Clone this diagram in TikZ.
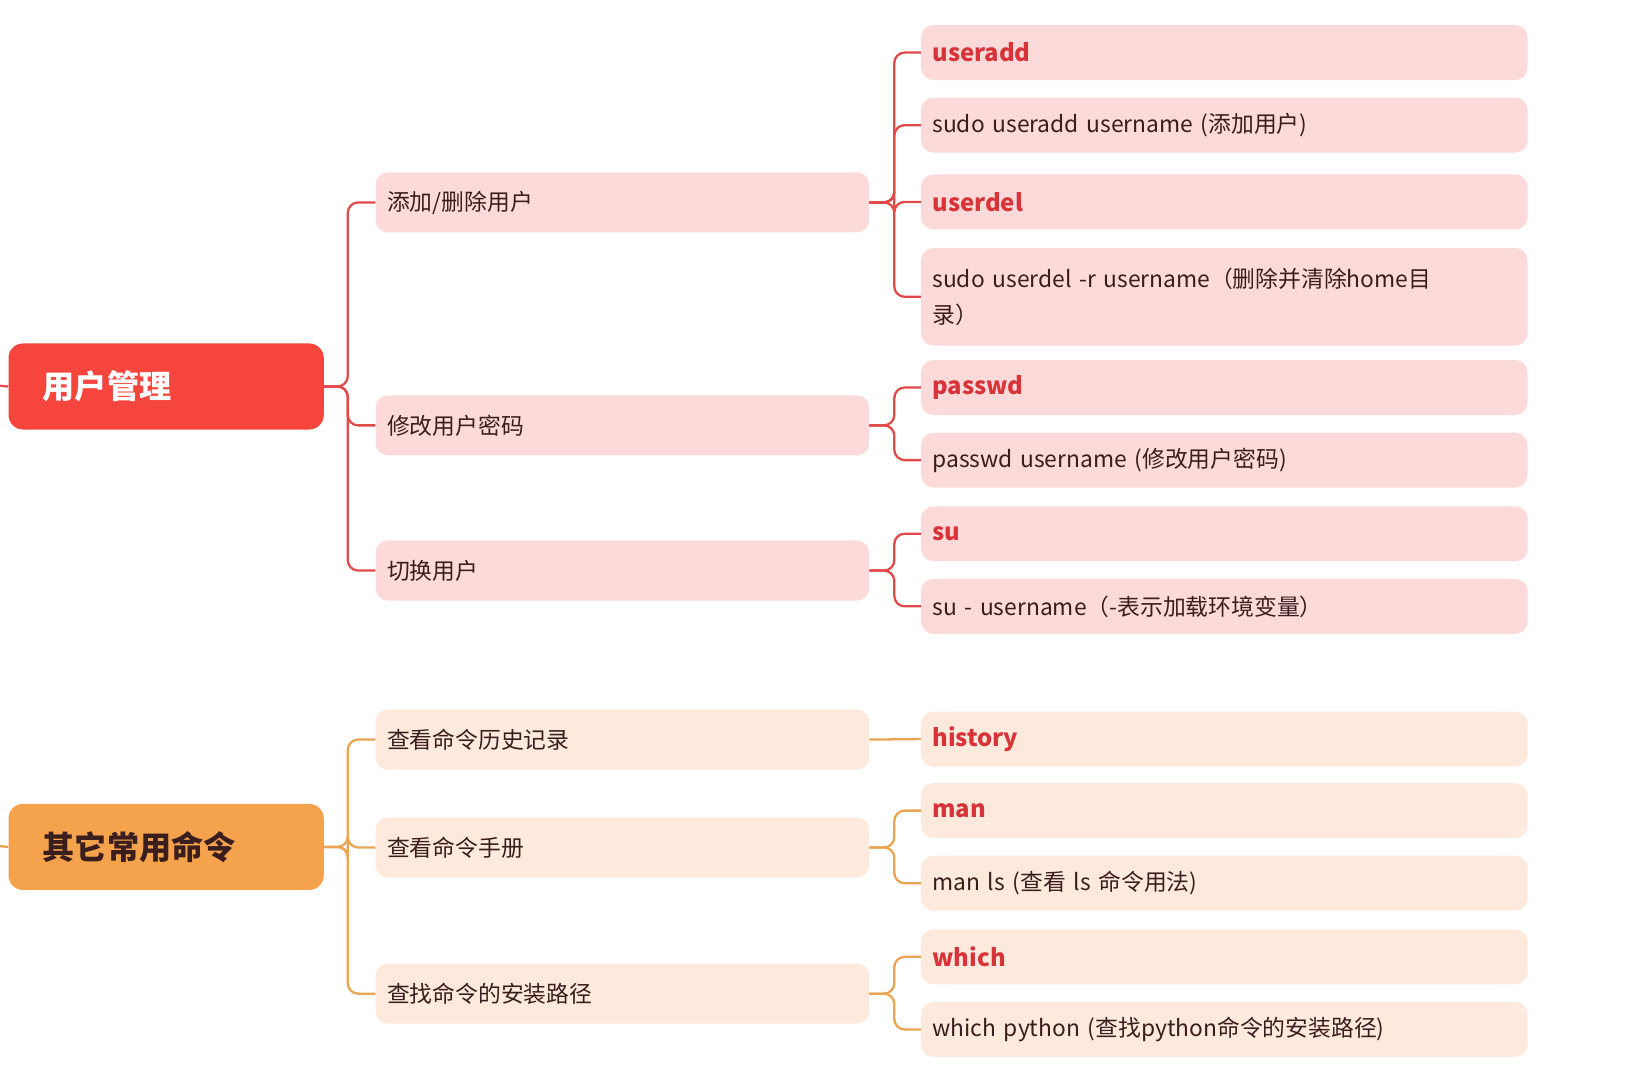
\documentclass[tikz,border=0pt]{standalone}
\usepackage{fontspec}
\setmainfont{Noto Sans CJK SC}
\usetikzlibrary{calc}
\definecolor{rootR}{HTML}{F5453C}
\definecolor{rootO}{HTML}{F5A24C}
\definecolor{boxR}{HTML}{FDDADA}
\definecolor{boxO}{HTML}{FDEADC}
\definecolor{lineR}{HTML}{E04A48}
\definecolor{lineO}{HTML}{EBA452}
\definecolor{txt}{HTML}{3A1E1E}
\definecolor{ttl}{HTML}{D9333A}
\tikzset{
  base/.style={anchor=north west, rounded corners=12pt, inner xsep=11pt, inner ysep=0pt, align=left, font=\fontsize{22}{34}\selectfont, text=txt},
  rootbox/.style={base, minimum height=83pt, text width=282pt, rounded corners=14pt, font=\fontsize{31}{36}\selectfont\bfseries, inner xsep=33pt, text width=238pt},
  midbox/.style={base, minimum height=58pt, text width=454pt},
  leafbox/.style={base, minimum height=53pt, text width=563pt},
  ttlbox/.style={leafbox, font=\fontsize{23}{30}\selectfont\bfseries, text=ttl},
  cr/.style={draw=lineR, line width=2.2pt, rounded corners=10pt},
  co/.style={draw=lineO, line width=2.2pt, rounded corners=10pt},
}
\begin{document}
\begin{tikzpicture}[x=1pt,y=-1pt]
\useasboundingbox[fill=white] (0,0) rectangle (1568,1041);
% roots
\node[rootbox, fill=rootR, text=white] (r1) at (8,331) {用户管理};
\node[rootbox, fill=rootO, text=txt] (r2) at (8,775) {其它常用命令};
% mids red
\node[midbox, fill=boxR] (m1) at (362,166) {添加/删除用户};
\node[midbox, fill=boxR] (m2) at (362,381) {修改用户密码};
\node[midbox, fill=boxR] (m3) at (362,521) {切换用户};
% mids orange
\node[midbox, fill=boxO] (n1) at (362,684) {查看命令历史记录};
\node[midbox, fill=boxO] (n2) at (362,788) {查看命令手册};
\node[midbox, fill=boxO] (n3) at (362,929) {查找命令的安装路径};
% leaves red
\node[ttlbox, fill=boxR] (a1) at (888,24) {useradd};
\node[leafbox, fill=boxR] (a2) at (888,94) {sudo useradd username (添加用户)};
\node[ttlbox, fill=boxR] (a3) at (888,168) {userdel};
\node[leafbox, fill=boxR, minimum height=94pt] (a4) at (888,239) {sudo userdel -r username（删除并清除home目\\录）};
\node[ttlbox, fill=boxR] (b1) at (888,347) {passwd};
\node[leafbox, fill=boxR] (b2) at (888,417) {passwd username (修改用户密码)};
\node[ttlbox, fill=boxR] (c1) at (888,488) {su};
\node[leafbox, fill=boxR] (c2) at (888,558) {su - username（-表示加载环境变量）};
% leaves orange
\node[ttlbox, fill=boxO] (d1) at (888,686) {history};
\node[ttlbox, fill=boxO] (e1) at (888,755) {man};
\node[leafbox, fill=boxO] (e2) at (888,825) {man ls (查看 ls 命令用法)};
\node[ttlbox, fill=boxO] (f1) at (888,896) {which};
\node[leafbox, fill=boxO] (f2) at (888,966) {which python (查找python命令的安装路径)};
% stubs left of roots
\coordinate (s1) at (0,372);
\coordinate (s2) at (0,816);
\draw[cr] (s1) -- (r1.west);
\draw[co] (s2) -- (r2.west);
% root connectors
\foreach \m in {m1,m2,m3} \draw[cr] (r1.east) -- ++(23,0) |- (\m.west);
\foreach \m in {n1,n2,n3} \draw[co] (r2.east) -- ++(23,0) |- (\m.west);
% mid to leaves
\foreach \l in {a1,a2,a3,a4} \draw[cr] (m1.east) -- ++(24,0) |- (\l.west);
\foreach \l in {b1,b2} \draw[cr] (m2.east) -- ++(24,0) |- (\l.west);
\foreach \l in {c1,c2} \draw[cr] (m3.east) -- ++(24,0) |- (\l.west);
\draw[co] (n1.east) -- (d1.west);
\foreach \l in {e1,e2} \draw[co] (n2.east) -- ++(24,0) |- (\l.west);
\foreach \l in {f1,f2} \draw[co] (n3.east) -- ++(24,0) |- (\l.west);
\end{tikzpicture}
\end{document}
